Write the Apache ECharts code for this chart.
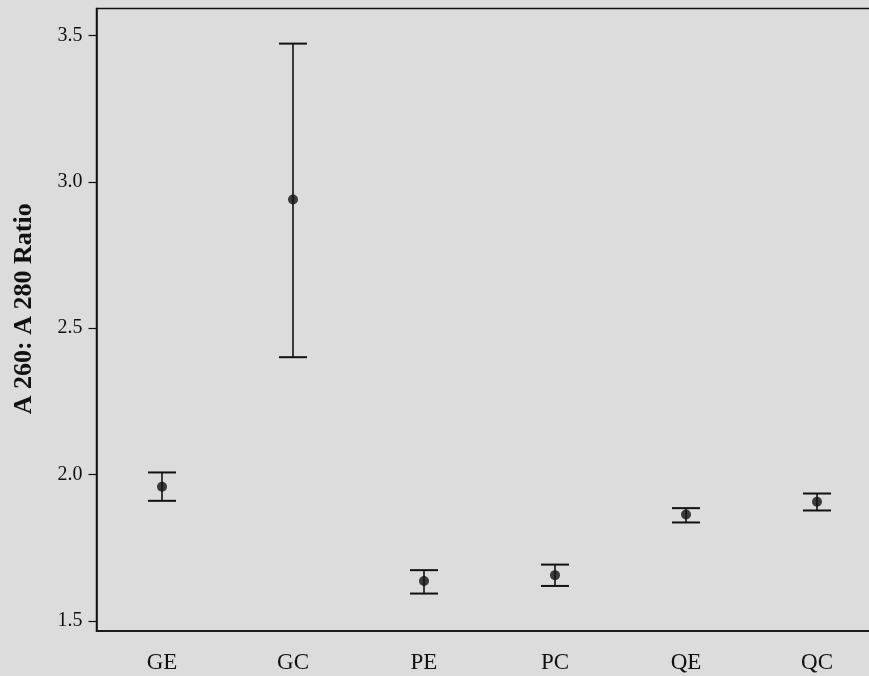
<!DOCTYPE html>
<html>
<head>
<meta charset="utf-8">
<script src="https://cdn.jsdelivr.net/npm/echarts@6/dist/echarts.min.js"></script>
<style>
html,body{margin:0;padding:0;background:#dcdcdc;}
#chart{width:869px;height:676px;}
</style>
</head>
<body>
<div id="chart"></div>
<script>
var categories = ['GE', 'GC', 'PE', 'PC', 'QE', 'QC'];
var means  = [1.958, 2.940, 1.636, 1.656, 1.863, 1.907];
var lowers = [1.910, 2.401, 1.593, 1.619, 1.836, 1.877];
var uppers = [2.007, 3.473, 1.673, 1.692, 1.885, 1.935];
var yTicks = [1.5, 2.0, 2.5, 3.0, 3.5];
var yMin = 1.465, yMax = 3.593;
var yTitle = 'A 260: A 280 Ratio';

var errData = categories.map(function (c, i) { return [i, lowers[i], uppers[i]]; });
var serif = '"Liberation Serif", "DejaVu Serif", serif';

var chart = echarts.init(document.getElementById('chart'), null, {renderer: 'canvas'});
chart.setOption({
  backgroundColor: '#dcdcdc',
  animation: false,
  grid: {left: 96.5, top: 8.5, bottom: 45, width: 786, outerBoundsMode: 'none', containLabel: false,
    show: true, borderColor: '#111', borderWidth: 1.5, backgroundColor: 'transparent'},
  xAxis: {
    type: 'category',
    data: categories,
    boundaryGap: true,
    axisLine: {lineStyle: {color: '#111', width: 1.5}},
    axisTick: {alignWithLabel: true, length: 5, lineStyle: {color: '#111', width: 1.5}},
    axisLabel: {fontFamily: serif, fontSize: 23, color: '#111', margin: 20},
    splitLine: {show: false}
  },
  yAxis: {
    type: 'value',
    min: yMin,
    max: yMax,
    name: yTitle,
    nameLocation: 'middle',
    nameRotate: 90,
    nameGap: 59,
    nameTextStyle: {fontFamily: serif, fontSize: 26, fontWeight: 'bold', color: '#111', padding: [0, 0, 0, 22]},
    axisLine: {show: true, lineStyle: {color: '#111', width: 1.5}},
    axisTick: {show: true, length: 8, customValues: yTicks, lineStyle: {color: '#111', width: 1.2}},
    axisLabel: {customValues: yTicks, fontFamily: serif, fontSize: 20, color: '#111', margin: 14,
      formatter: function (v) { return Number(v).toFixed(1); }},
    splitLine: {show: false}
  },
  series: [
    {
      type: 'custom',
      data: errData,
      z: 2,
      renderItem: function (params, api) {
        var x = api.value(0);
        var lo = api.coord([x, api.value(1)]);
        var hi = api.coord([x, api.value(2)]);
        var hw = 14;
        var st = {stroke: '#111', lineWidth: 1.6};
        return {
          type: 'group',
          children: [
            {type: 'line', shape: {x1: hi[0], y1: hi[1], x2: lo[0], y2: lo[1]}, style: st},
            {type: 'line', shape: {x1: hi[0] - hw, y1: hi[1], x2: hi[0] + hw, y2: hi[1]}, style: {stroke: '#111', lineWidth: 2}},
            {type: 'line', shape: {x1: lo[0] - hw, y1: lo[1], x2: lo[0] + hw, y2: lo[1]}, style: {stroke: '#111', lineWidth: 2}}
          ]
        };
      }
    },
    {
      type: 'scatter',
      data: means,
      z: 3,
      symbol: 'circle',
      symbolSize: 10,
      itemStyle: {color: '#111'}
    }
  ]
});
</script>
</body>
</html>
